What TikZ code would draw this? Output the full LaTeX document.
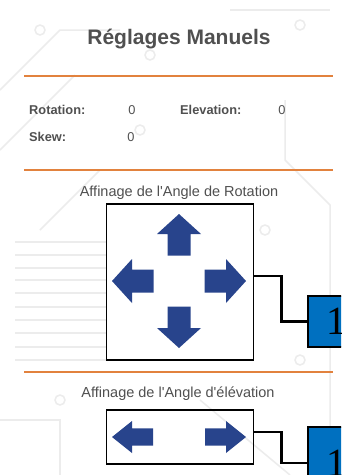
\documentclass[tikz,border=0pt]{standalone}
\usepackage{fontspec}
\setmainfont{Liberation Sans}
\newfontfamily\numfont{Liberation Serif}
\definecolor{sepline}{RGB}{226,130,62}
\definecolor{arrowblue}{RGB}{40,68,140}
\definecolor{numblue}{RGB}{0,112,192}
\definecolor{uitext}{RGB}{80,80,80}
\definecolor{circuit}{RGB}{236,236,236}
\tikzset{
  fieldname/.style={anchor=base west,text=uitext,inner sep=0pt,font=\fontsize{12.8}{14}\selectfont\bfseries},
  fieldval/.style={anchor=base,text=uitext,inner sep=0pt,font=\fontsize{12.8}{14}\selectfont},
  caption/.style={anchor=base,text=uitext,inner sep=0pt,font=\fontsize{14.5}{17}\selectfont},
  padbox/.style={draw,line width=1.5pt,inner sep=0pt},
  numbox/.style={draw,line width=1.8pt,fill=numblue,inner sep=0pt,minimum width=57,font=\numfont\fontsize{40}{40}\selectfont},
  conn/.style={line width=2.5pt},
  sep/.style={sepline,line width=1.8pt},
  pad/.style={fill=arrowblue},
  trace/.style={circuit,line width=1.5pt}
}
\begin{document}
\begin{tikzpicture}[x=1pt,y=-1pt]
  \useasboundingbox (0,0) rectangle (341,475);
  \clip (0,0) rectangle (341,475);
  \fill[white] (0,0) rectangle (341,475);
  \foreach \y in {242,255,268,280,293,307,320,333,347,360}
    \draw[trace] (15,\y) -- (106,\y);
  \draw[trace] (0,90) -- (60,30) -- (120,30);
  \draw[trace] (0,150) -- (75,75);
  \draw[trace] (40,230) -- (100,170);
  \draw[trace] (230,10) -- (330,10);
  \draw[trace] (285,100) -- (285,160) -- (330,205) -- (330,475);
  \draw[trace] (0,420) -- (60,420) -- (60,475);
  \draw[trace] (200,400) -- (290,475);
  \foreach \p in {(40,30),(150,55),(300,25),(60,400),(140,130),(265,230),(300,360)}
    \draw[trace,fill=white] \p circle (5);
  \node (title) [anchor=base,text=uitext,inner sep=0pt,font=\fontsize{21}{25}\selectfont\bfseries] at (179,44) {Réglages Manuels};
  \draw[sep] (24,76) -- (333,76);
  \node (rotname) [fieldname] at (29,114) {Rotation:};
  \node (rotval) [fieldval] at (132,114) {0};
  \node (elename) [fieldname] at (180,114) {Elevation:};
  \node (eleval) [fieldval] at (282,114) {0};
  \node (skewname) [fieldname] at (29,141) {Skew:};
  \node (skewval) [fieldval] at (131,141) {0};
  \draw[sep] (24,170) -- (333,170);
  \node (rotcap) [caption] at (179,196) {Affinage de l\textquotesingle Angle de Rotation};
  \node (rotbox) [padbox,minimum width=147,minimum height=156] at (180,282) {};
  \foreach \a in {0,90,180,270}
    \fill[pad,shift={(179,281)},rotate=\a] (25.5,-11.5) -- (47,-11.5) -- (47,-22) -- (67,0) -- (47,22) -- (47,11.5) -- (25.5,11.5) -- cycle;
  \node (num1) [numbox,anchor=west,minimum height=51] at (307,321.5) {1};
  \draw[conn] ([yshift=6pt]rotbox.east) -- ++(27,0) |- (num1.west);
  \draw[sep] (24,372) -- (333,372);
  \node (elecap) [caption] at (178,397) {Affinage de l\textquotesingle Angle d\textquotesingle élévation};
  \node (elebox) [padbox,minimum width=147,minimum height=54] at (180,437) {};
  \foreach \a in {0,180}
    \fill[pad,shift={(179,437)},rotate=\a] (26,-8.6) -- (47,-8.6) -- (47,-16) -- (67,0) -- (47,16) -- (47,8.6) -- (26,8.6) -- cycle;
  \node (num2) [numbox,anchor=west,minimum height=72] at (307,463) {1};
  \draw[conn] ([yshift=5pt]elebox.east) -- ++(27,0) |- (num2.west);
\end{tikzpicture}
\end{document}
